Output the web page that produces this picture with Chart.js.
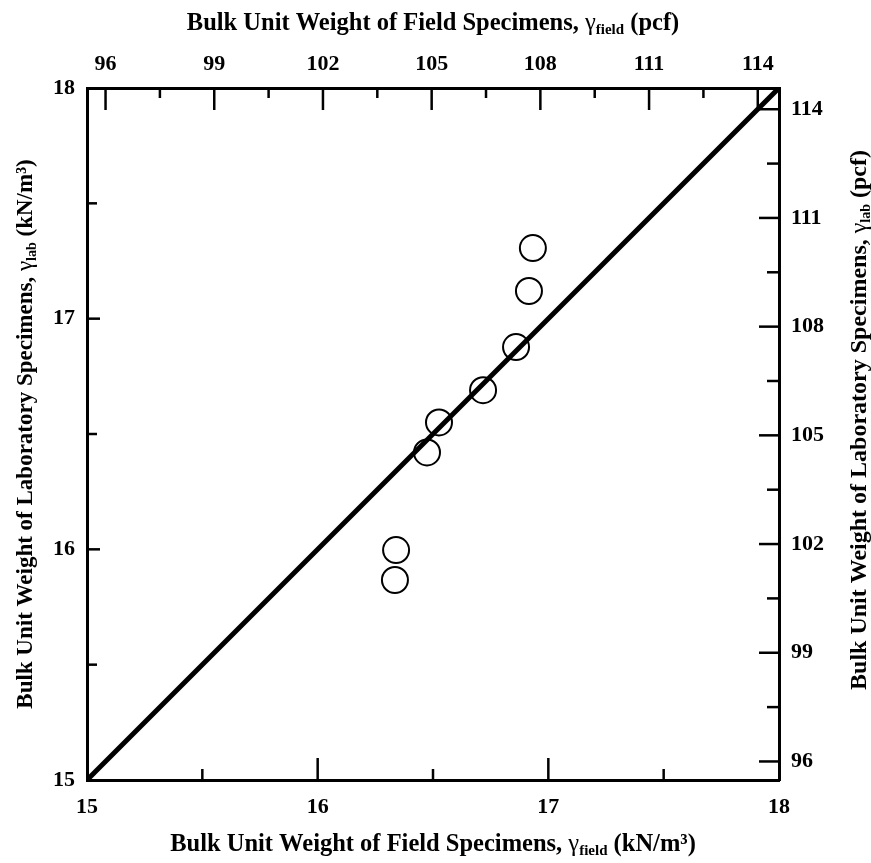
<!DOCTYPE html>
<html>
<head>
<meta charset="utf-8">
<script src="https://cdn.jsdelivr.net/npm/chart.js@4/dist/chart.umd.min.js"></script>
<style>
  html, body { margin: 0; padding: 0; background: #fff; }
</style>
</head>
<body>
<canvas id="chart" width="871" height="863"></canvas>
<script>
const K = 6.36588; // pcf per kN/m3

// measured points, kN/m3
const fieldKN = [16.335, 16.34, 16.474, 16.526, 16.717, 16.86, 16.916, 16.933];
const labKN   = [15.867, 15.997, 16.42, 16.55, 16.69, 16.877, 17.12, 17.306];

// 1:1 line
const equalityKN = [15, 18];

// tick values
const knMajor  = [15, 16, 17, 18];
const knMinor  = [15.5, 16.5, 17.5];
const pcfMajor = [96, 99, 102, 105, 108, 111, 114];
const pcfMinor = [97.5, 100.5, 103.5, 106.5, 109.5, 112.5];

const serif = '"Liberation Serif", "Times New Roman", serif';
const tickFont = { family: serif, size: 22, weight: 'bold' };

function fixTicks(values) {
    return scale => { scale.ticks = values.map(v => ({ value: v })); };
}

function axis(position, min, max, values, size, pad) {
    const vertical = position === 'left' || position === 'right';
    return {
        type: 'linear',
        position: position,
        min: min,
        max: max,
        afterBuildTicks: fixTicks(values),
        afterFit: s => { if (vertical) s.width = size; else s.height = size; },
        grid: { display: false },
        border: { display: true, color: '#000', width: 3 },
        ticks: {
            color: '#000',
            font: tickFont,
            padding: pad,
            autoSkip: false,
            maxRotation: 0,
            callback: v => String(Math.round(v)),
        },
    };
}

// titles with sub/superscripts
function richText(ctx, parts, x, y, rot) {
    ctx.save();
    ctx.translate(x, y);
    ctx.rotate(rot);
    ctx.textBaseline = 'alphabetic';
    let total = 0;
    parts.forEach(p => { ctx.font = p.font; total += ctx.measureText(p.text).width; });
    let cx = -total / 2;
    parts.forEach(p => {
        ctx.font = p.font;
        ctx.fillStyle = '#000';
        ctx.fillText(p.text, cx, 8 + (p.dy || 0));
        cx += ctx.measureText(p.text).width;
    });
    ctx.restore();
}

function titleParts(sub, unit, size) {
    const small = Math.round(size * 0.6);
    return [
        { text: 'Bulk Unit Weight of ' + (sub === 'field' ? 'Field' : 'Laboratory') + ' Specimens, ', font: 'bold ' + size + 'px ' + serif },
        { text: 'γ', font: size + 'px ' + serif },
        { text: sub, font: 'bold ' + small + 'px ' + serif, dy: 4 },
        { text: ' (' + unit + ')', font: 'bold ' + size + 'px ' + serif },
    ];
}

const marksPlugin = {
    id: 'marks',
    afterDraw(chart) {
        const ctx = chart.ctx;
        const a = chart.chartArea;
        const sc = chart.scales;
        ctx.save();
        ctx.strokeStyle = '#000';
        ctx.lineWidth = 2.5;
        const draw = (scale, values, len) => {
            values.forEach(v => {
                const p = scale.getPixelForValue(v);
                ctx.beginPath();
                if (scale.position === 'bottom') { ctx.moveTo(p, a.bottom); ctx.lineTo(p, a.bottom - len); }
                if (scale.position === 'top') { ctx.moveTo(p, a.top); ctx.lineTo(p, a.top + len); }
                if (scale.position === 'left') { ctx.moveTo(a.left, p); ctx.lineTo(a.left + len, p); }
                if (scale.position === 'right') { ctx.moveTo(a.right, p); ctx.lineTo(a.right - len, p); }
                ctx.stroke();
            });
        };
        draw(sc.x, knMajor.slice(1, -1), 22);
        draw(sc.x, knMinor, 11);
        draw(sc.x2, pcfMajor, 22);
        draw(sc.x2, pcfMinor, 10);
        draw(sc.y, knMajor.slice(1, -1), 13);
        draw(sc.y, knMinor, 10);
        draw(sc.y2, pcfMajor, 20);
        draw(sc.y2, pcfMinor, 12);
        ctx.restore();

        const cx = (a.left + a.right) / 2;
        const cy = (a.top + a.bottom) / 2;
        richText(ctx, titleParts('field', 'pcf', 24.5), cx, 22, 0);
        richText(ctx, titleParts('field', 'kN/m³', 24.5), cx, 843, 0);
        richText(ctx, titleParts('lab', 'kN/m³', 23), 24, cy, -Math.PI / 2);
        richText(ctx, titleParts('lab', 'pcf', 24), 858, cy - 14, -Math.PI / 2);
    }
};

new Chart(document.getElementById('chart'), {
    type: 'scatter',
    data: {
        datasets: [
            {
                label: '1:1',
                data: equalityKN.map(v => ({ x: v, y: v })),
                showLine: true,
                borderColor: '#000',
                borderWidth: 5,
                pointRadius: 0,
                xAxisID: 'x',
                yAxisID: 'y',
            },
            {
                label: 'Specimens',
                data: fieldKN.map((v, i) => ({ x: v, y: labKN[i] })),
                pointStyle: 'circle',
                pointRadius: 13,
                borderWidth: 2,
                borderColor: '#000',
                backgroundColor: 'rgba(0,0,0,0)',
                xAxisID: 'x',
                yAxisID: 'y',
            },
        ],
    },
    options: {
        responsive: false,
        animation: false,
        layout: { padding: 0 },
        plugins: {
            legend: { display: false },
            tooltip: { enabled: false },
        },
        scales: {
            x:  axis('bottom', 15, 18, knMajor, 83, 6),
            x2: axis('top', 15 * K, 18 * K, pcfMajor, 88, 2),
            y:  axis('left', 15, 18, knMajor, 87, 4),
            y2: axis('right', 15 * K, 18 * K, pcfMajor, 92, 4),
        },
    },
    plugins: [marksPlugin],
});
</script>
</body>
</html>
